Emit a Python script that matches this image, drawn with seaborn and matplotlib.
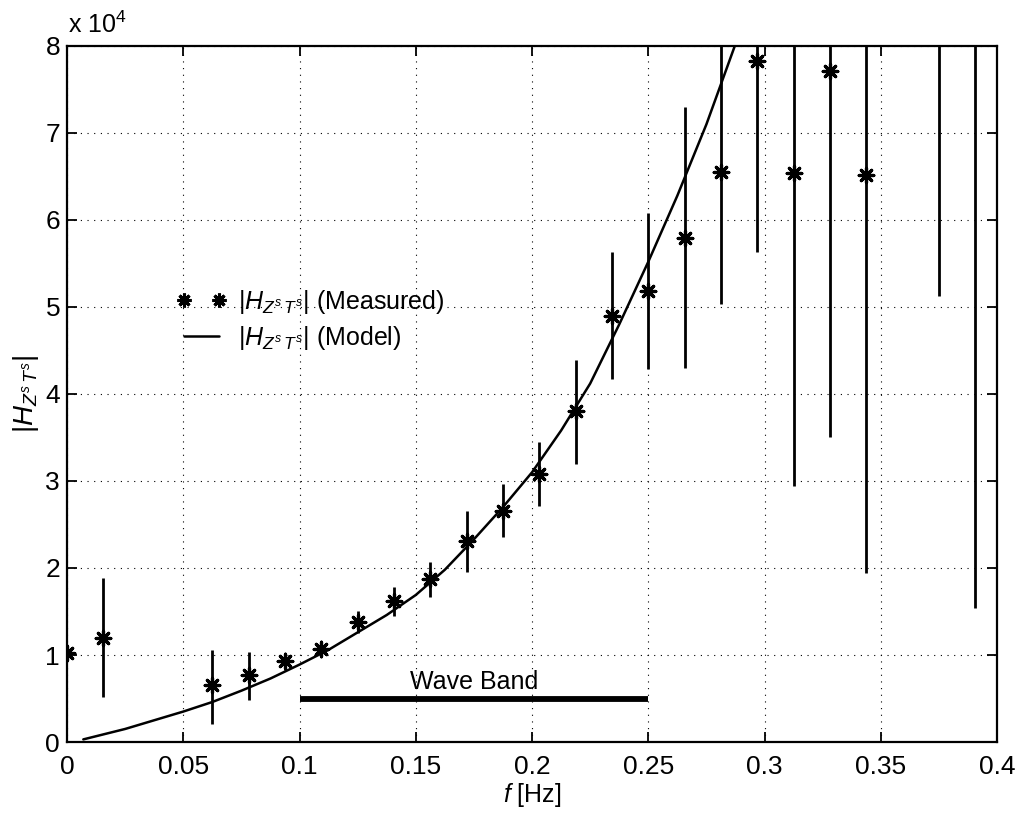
import numpy as np
import pandas as pd
import matplotlib
matplotlib.use("Agg")
import matplotlib.pyplot as plt
from matplotlib.lines import Line2D
import seaborn as sns

# ---------------- data ----------------
f_meas = [0.0, 0.015625, 0.0625, 0.078125, 0.09375, 0.109375, 0.125, 0.140625,
          0.15625, 0.171875, 0.1875, 0.203125, 0.21875, 0.234375, 0.25, 0.265625,
          0.28125, 0.296875, 0.3125, 0.328125, 0.34375, 0.375, 0.390625]
h_meas = [1.02e4, 1.20e4, 0.65e4, 0.77e4, 0.93e4, 1.07e4, 1.38e4, 1.62e4,
          1.87e4, 2.31e4, 2.66e4, 3.08e4, 3.80e4, 4.90e4, 5.18e4, 5.79e4,
          6.55e4, 7.83e4, 6.54e4, 7.71e4, 6.52e4, 9.5e4, 9.0e4]
h_low = [0.99e4, 0.52e4, 0.21e4, 0.48e4, 0.83e4, 1.00e4, 1.25e4, 1.45e4,
         1.67e4, 1.95e4, 2.36e4, 2.71e4, 3.20e4, 4.17e4, 4.29e4, 4.30e4,
         5.03e4, 5.63e4, 2.94e4, 3.51e4, 1.94e4, 5.13e4, 1.54e4]
h_high = [1.05e4, 1.88e4, 1.06e4, 1.03e4, 1.02e4, 1.13e4, 1.51e4, 1.78e4,
          2.07e4, 2.66e4, 2.96e4, 3.45e4, 4.39e4, 5.63e4, 6.08e4, 7.30e4,
          9.5e4, 10.5e4, 10.5e4, 11.0e4, 11.0e4, 13.9e4, 16.5e4]

f_model = [0.007, 0.025, 0.05, 0.0625, 0.075, 0.0875, 0.1, 0.1125, 0.125,
           0.1375, 0.15, 0.1625, 0.175, 0.1875, 0.2, 0.2125, 0.225, 0.2375,
           0.25, 0.2625, 0.275, 0.2872]
h_model = [0.03e4, 0.15e4, 0.35e4, 0.46e4, 0.59e4, 0.73e4, 0.89e4, 1.06e4,
           1.26e4, 1.46e4, 1.69e4, 1.98e4, 2.33e4, 2.70e4, 3.10e4, 3.58e4,
           4.12e4, 4.80e4, 5.52e4, 6.28e4, 7.10e4, 8.0e4]

band_range = [0.1, 0.25]
band_level = 0.5e4
band_label = "Wave Band"

x_ticks = [0, 0.05, 0.1, 0.15, 0.2, 0.25, 0.3, 0.35, 0.4]
x_ticklabels = ["0", "0.05", "0.1", "0.15", "0.2", "0.25", "0.3", "0.35", "0.4"]
y_ticks = [0, 1e4, 2e4, 3e4, 4e4, 5e4, 6e4, 7e4, 8e4]
y_ticklabels = ["0", "1", "2", "3", "4", "5", "6", "7", "8"]

label_meas = r"$|H_{Z^s\,T^s}|$ (Measured)"
label_model = r"$|H_{Z^s\,T^s}|$ (Model)"

# ---------------- style ----------------
sns.set_style("ticks")
plt.rcParams["font.family"] = ["Liberation Sans", "DejaVu Sans"]
plt.rcParams["mathtext.fontset"] = "custom"
plt.rcParams["mathtext.rm"] = "Liberation Sans"
plt.rcParams["mathtext.it"] = "Liberation Sans:italic"
plt.rcParams["mathtext.bf"] = "Liberation Sans:bold"
plt.rcParams["text.color"] = "black"
plt.rcParams["axes.labelcolor"] = "black"
plt.rcParams["xtick.color"] = "black"
plt.rcParams["ytick.color"] = "black"

fig = plt.figure(figsize=(10.33, 8.18), dpi=100)
ax = fig.add_axes([0.0649, 0.0929, 0.9003, 0.8509])

meas_df = pd.DataFrame({"f": f_meas, "H": h_meas, "lo": h_low, "hi": h_high})
model_df = pd.DataFrame({"f": f_model, "H": h_model})

# error bars
ax.vlines(meas_df["f"], meas_df["lo"], meas_df["hi"], color="black", lw=2.0, zorder=2)

# measured points
sns.scatterplot(data=meas_df, x="f", y="H", marker=(8, 2, 0), s=110,
                color="black", linewidth=2.3, ax=ax, zorder=3, legend=False)

# model curve
sns.lineplot(data=model_df, x="f", y="H", color="black", lw=1.8, ax=ax,
             zorder=2, legend=False)

# wave band
ax.plot(band_range, [band_level, band_level], color="black", lw=4.2,
        solid_capstyle="butt", zorder=2)
ax.text(np.mean(band_range), band_level + 0.05e4, band_label, ha="center",
        va="bottom", fontsize=18, color="black")

ax.set_xlim(0, 0.4)
ax.set_ylim(0, 8e4)
ax.set_xticks(x_ticks)
ax.set_xticklabels(x_ticklabels)
ax.set_yticks(y_ticks)
ax.set_yticklabels(y_ticklabels)
ax.tick_params(direction="in", top=True, right=True, length=7, width=1.3,
               labelsize=19, colors="black")
ax.tick_params(axis="x", pad=9)
ax.tick_params(axis="y", pad=5)
for s in ax.spines.values():
    s.set_visible(True)
    s.set_linewidth(1.6)
    s.set_color("black")

ax.grid(True, color="black", linestyle=(0, (1, 5)), linewidth=0.8)

ax.set_xlabel(r"$f$ [Hz]", fontsize=18, labelpad=2, color="black")
ax.set_ylabel(r"$|H_{Z^s\,T^s}|$", fontsize=20, labelpad=3, color="black")

ax.annotate(r"x 10$^4$", xy=(0, 1), xycoords="axes fraction",
            xytext=(1, 6), textcoords="offset points", ha="left", va="bottom",
            fontsize=18, color="black")

handles = [Line2D([], [], marker=(8, 2, 0), ls="none", color="black", ms=10, mew=2.2),
           Line2D([], [], color="black", lw=1.8)]
leg = ax.legend(handles, [label_meas, label_model], numpoints=2, frameon=False,
                fontsize=18, handlelength=2.0, handletextpad=0.5, labelspacing=0.3,
                loc="upper left", bbox_to_anchor=(176 / 1033, 1 - 288 / 818),
                bbox_transform=fig.transFigure, borderpad=0, borderaxespad=0)
for t in leg.get_texts():
    t.set_color("black")

fig.savefig("out.png", dpi=100)
